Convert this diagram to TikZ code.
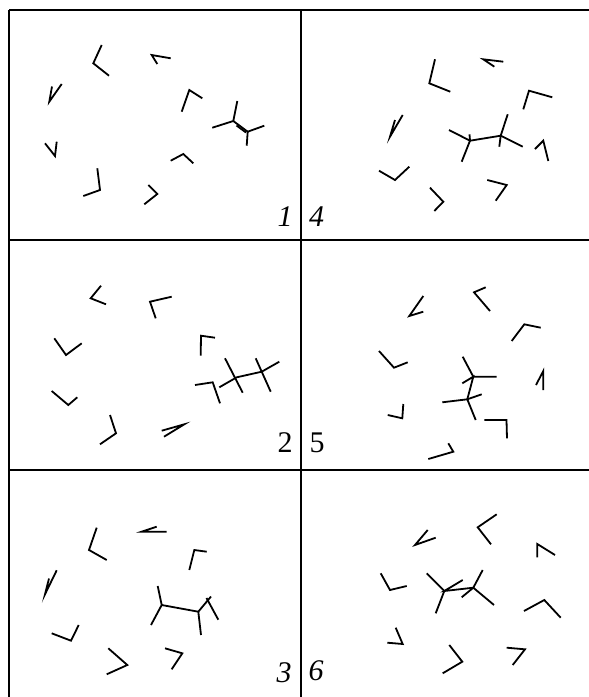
\documentclass[tikz,border=0pt]{standalone}
\usepackage{fontspec}
\setmainfont{Liberation Serif}
\begin{document}
\begin{tikzpicture}[x=1pt,y=-1pt,
  seg/.style={line width=1.8pt,line join=miter,line cap=butt},
  frame/.style={line width=1.1pt},
  lab/.style={font=\fontsize{30}{30}\selectfont,inner sep=0pt}]
\useasboundingbox (0,0) rectangle (589,697);
% frame
\draw[frame] (9,10) -- (589,10);
\draw[frame] (9,240) -- (589,240);
\draw[frame] (9,470) -- (589,470);
\draw[frame] (9,10) -- (9,697);
\draw[frame] (301,10) -- (301,697);
% labels
\node[lab] (l1) at (285,217) {\itshape 1};
\node[lab] (l4) at (316.5,217) {\itshape 4};
\node[lab] (l2) at (285,443) {2};
\node[lab] (l5) at (317,443) {5};
\node[lab] (l3) at (284,673) {\itshape 3};
\node[lab] (l6) at (316,671) {\itshape 6};

% ---------- Panel 1 ----------
\draw[seg] (101.7,45) -- (93.3,63.3) -- (109,75.7);
\draw[seg] (170.7,58.3) -- (151.7,55) -- (157.3,64);
\draw[seg] (61.7,84) -- (49.3,101.7) -- (52,86.5);
\draw[seg] (181.7,111.7) -- (189.3,90) -- (202.3,98.3);
\draw[seg] (45,143.3) -- (55,156) -- (56.7,141.7);
\draw[seg] (170.7,160.7) -- (183.3,154) -- (193.3,163.3);
\draw[seg] (97.3,168.3) -- (100,190) -- (83.3,196);
\draw[seg] (148.3,185) -- (157.3,194) -- (144.3,204.3);
% molecule 1
\draw[seg] (237.3,101) -- (233.3,121) -- (212.3,127.7);
\draw[seg] (233.3,121) -- (247.7,131.7);
\draw[seg] (236.5,125.5) -- (246,132.5);
\draw[seg] (264.3,125.7) -- (247.7,131.7) -- (246.7,145.7);

% ---------- Panel 4 ----------
\draw[seg] (435,59.3) -- (429.3,83.3) -- (450.3,91.7);
\draw[seg] (503.3,61.7) -- (483.3,59.3) -- (494.3,66.7);
\draw[seg] (523.3,109.3) -- (529,90.7) -- (552.3,97.3);
\draw[seg] (402.7,115) -- (390,136.7) -- (395,120);
\draw[seg] (535,149) -- (543.3,140.7) -- (548.3,161);
\draw[seg] (379,170.7) -- (395,180) -- (409.3,166.7);
\draw[seg] (430,187.7) -- (443.3,201.7) -- (434.3,211);
\draw[seg] (487.3,180) -- (506.7,185) -- (495.7,200.7);
% molecule 4
\draw[seg] (449,130) -- (470,140.7) -- (500.7,135.7) -- (522.7,146.7);
\draw[seg] (469.5,134.3) -- (470,140.7) -- (461.7,161.7);
\draw[seg] (507.7,114.3) -- (500.7,135.7) -- (499.3,146.7);

% ---------- Panel 2 ----------
\draw[seg] (101,285.7) -- (90.7,298.3) -- (106,304.3);
\draw[seg] (171.7,296.7) -- (150,301.7) -- (155.7,318.3);
\draw[seg] (54.3,338.3) -- (66,355) -- (81.7,343.3);
\draw[seg] (200.7,355.7) -- (201,335.7) -- (215,337.7);
\draw[seg] (51.7,391) -- (68.3,405) -- (77.3,397.3);
\draw[seg] (110,415) -- (116,433.3) -- (100,444.3);
\draw[seg] (161.7,430.7) -- (184.3,424.3) -- (164,436.7);
% molecule 2
\draw[seg] (195,385) -- (212.7,382.3) -- (220,403.3);
\draw[seg] (219.3,387.3) -- (236.7,377.3) -- (261.7,371.7) -- (279.3,361.7);
\draw[seg] (225,358.3) -- (242.7,392.7);
\draw[seg] (255.7,358.3) -- (270.7,391.7);

% ---------- Panel 5 ----------
\draw[seg] (423.3,296) -- (409.3,316) -- (423.3,311.7);
\draw[seg] (485.7,287.3) -- (474,292.3) -- (490,311);
\draw[seg] (511.7,341) -- (524.3,324.3) -- (540.7,327.7);
\draw[seg] (379,351) -- (394,367.7) -- (407.7,362.3);
\draw[seg] (536,385) -- (543.3,371) -- (543.3,390);
\draw[seg] (403.3,404) -- (402.3,418.3) -- (387.7,415);
\draw[seg] (484.3,420) -- (506.5,420) -- (507,438.3);
\draw[seg] (428.3,459) -- (453.3,451.7) -- (448.3,443.3);
% molecule 5
\draw[seg] (462.7,356.7) -- (473.3,376.7) -- (496.7,376.7);
\draw[seg] (462.3,383.3) -- (473.3,376.7) -- (467.3,399.3);
\draw[seg] (442.3,402.3) -- (467.3,399.3) -- (481.7,394.3);
\draw[seg] (467.3,399.3) -- (475.7,420);

% ---------- Panel 3 ----------
\draw[seg] (96.7,527.7) -- (89,550) -- (106.7,560);
\draw[seg] (166.7,531.7) -- (141.7,531.7) -- (156.7,526.7);
\draw[seg] (189.3,570) -- (194.3,550) -- (206.7,551.7);
\draw[seg] (56.7,570.3) -- (45,594.3) -- (49,578.5);
\draw[seg] (78.7,625) -- (71,640.7) -- (51.7,633.3);
\draw[seg] (108.3,648.3) -- (127.3,665) -- (106.7,674.3);
\draw[seg] (165,648.3) -- (182.3,653.3) -- (171.7,669.3);
% molecule 3
\draw[seg] (157.7,586) -- (161.7,605) -- (151,625);
\draw[seg] (161.7,605) -- (198.3,611.7) -- (201,635);
\draw[seg] (198.3,611.7) -- (211,596.5);
\draw[seg] (206.5,598) -- (218.3,619.7);

% ---------- Panel 6 ----------
\draw[seg] (435.7,537.7) -- (415,545) -- (427.7,530);
\draw[seg] (496.7,514.3) -- (477.7,527.3) -- (491,544.3);
\draw[seg] (537.3,557.3) -- (537.3,544) -- (555,555);
\draw[seg] (380.7,573.3) -- (390,590) -- (406.7,586);
\draw[seg] (524,611) -- (544.3,600) -- (560.7,617.7);
\draw[seg] (395.7,627.7) -- (402.7,644) -- (387.3,642.7);
\draw[seg] (449.3,645) -- (462.3,661.7) -- (442.7,673.3);
\draw[seg] (506.7,647.7) -- (525,649.3) -- (512.7,665);
% molecule 6
\draw[seg] (426.7,573.3) -- (444.3,591) -- (435.7,613.3);
\draw[seg] (462.7,580) -- (444.3,591) -- (473.3,587.7);
\draw[seg] (482.7,570) -- (473.3,587.7) -- (494,605);
\draw[seg] (473.3,587.7) -- (461.7,597.3);
\end{tikzpicture}
\end{document}
